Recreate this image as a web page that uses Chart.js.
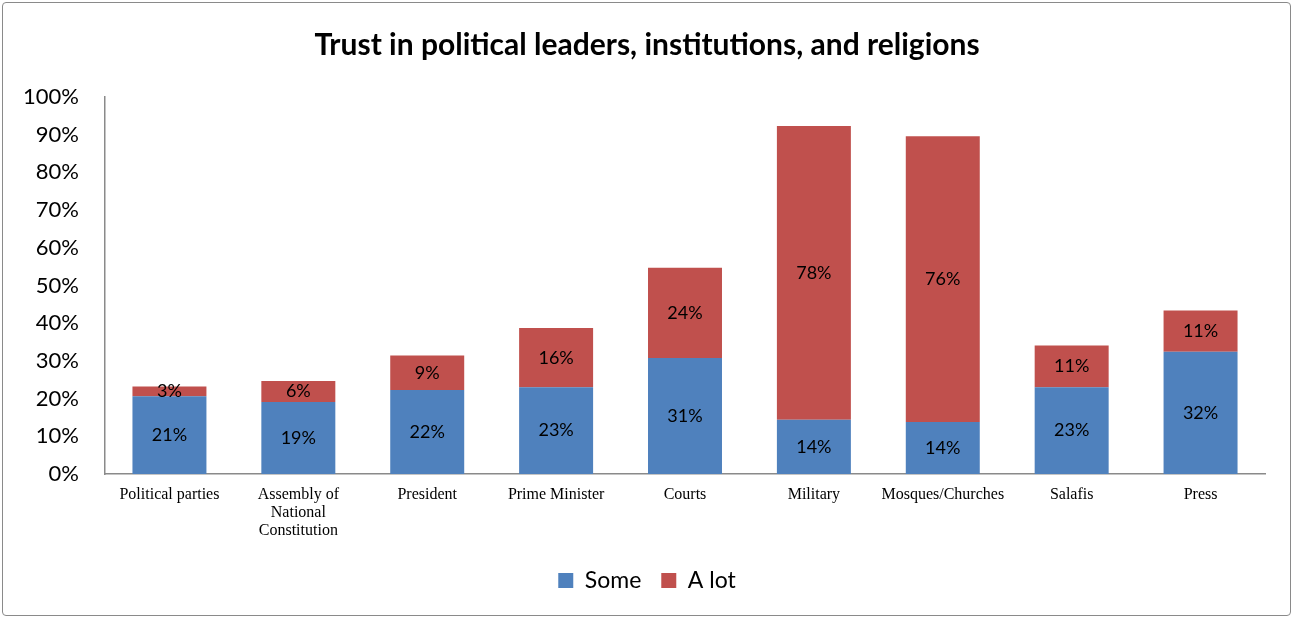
<!DOCTYPE html>
<html>
<head>
<meta charset="utf-8">
<script src="https://cdn.jsdelivr.net/npm/chart.js@4"></script>
<style>
  html, body { margin: 0; padding: 0; background: #ffffff; }
  #wrap { position: relative; width: 1294px; height: 619px; }
  #frame { position: absolute; left: 2px; top: 2px; width: 1289px; height: 614px;
           border: 1.5px solid #8a8a8a; border-radius: 4px; box-sizing: border-box; pointer-events: none; }
  canvas { position: absolute; left: 0; top: 0; }
</style>
</head>
<body>
<div id="wrap">
  <canvas id="c" width="1294" height="619"></canvas>
  <div id="frame"></div>
</div>
<script>
const titleText = "Trust in political leaders, institutions, and religions";
const categories = [
  "Political parties",
  ["Assembly of", "National", "Constitution"],
  "President",
  "Prime Minister",
  "Courts",
  "Military",
  "Mosques/Churches",
  "Salafis",
  "Press"
];
const seriesNames = ["Some", "A lot"];
const someValues = [20.6, 19.1, 22.3, 23.0, 30.8, 14.4, 13.8, 23.0, 32.4];
const aLotValues = [2.6, 5.6, 9.1, 15.7, 23.9, 77.9, 75.8, 11.1, 11.0];
const yTickMax = 100;
const yTickStep = 10;

const barLabels = {
  id: 'barLabels',
  afterDatasetsDraw(chart) {
    const ctx = chart.ctx;
    ctx.save();
    ctx.font = '18px Lato';
    ctx.fillStyle = '#000000';
    ctx.textAlign = 'center';
    ctx.textBaseline = 'middle';
    chart.data.datasets.forEach((ds, di) => {
      const meta = chart.getDatasetMeta(di);
      meta.data.forEach((el, i) => {
        const v = ds.data[i];
        const y = (el.y + el.base) / 2;
        ctx.fillText(Math.round(v) + '%', el.x, y);
      });
    });
    ctx.restore();
  }
};

new Chart(document.getElementById('c'), {
  type: 'bar',
  data: {
    labels: categories,
    datasets: [
      { label: seriesNames[0], data: someValues, backgroundColor: '#4F81BD', borderWidth: 0 },
      { label: seriesNames[1], data: aLotValues, backgroundColor: '#C0504D', borderWidth: 0 }
    ]
  },
  options: {
    responsive: false,
    animation: false,
    devicePixelRatio: 1,
    layout: { padding: { left: 0, right: 0, top: 0, bottom: 17 } },
    datasets: { bar: { barPercentage: 0.574, categoryPercentage: 1.0 } },
    plugins: {
      title: {
        display: true,
        text: titleText,
        color: '#000000',
        font: { family: 'Lato', size: 30, weight: 'bold', lineHeight: 1.2 },
        padding: { top: 27, bottom: 34 }
      },
      legend: {
        position: 'bottom',
        labels: {
          color: '#000000',
          font: { family: 'Lato', size: 23 },
          boxWidth: 15,
          boxHeight: 15,
          padding: 20
        }
      },
      tooltip: { enabled: false }
    },
    scales: {
      x: {
        stacked: true,
        grid: { display: false, drawTicks: false },
        border: { display: true, color: '#8a8a8a', width: 1.5 },
        ticks: {
          color: '#000000',
          font: { family: 'Liberation Serif', size: 16, lineHeight: 1.125 },
          padding: 12,
          maxRotation: 0,
          autoSkip: false
        },
        afterFit(scale) { scale.height = 75; }
      },
      y: {
        stacked: true,
        min: 0,
        max: yTickMax,
        grid: { display: false, drawTicks: false },
        border: { display: true, color: '#8a8a8a', width: 1.5 },
        ticks: {
          stepSize: yTickStep,
          color: '#000000',
          font: { family: 'Lato', size: 22 },
          padding: 26,
          callback: v => v + '%'
        },
        afterFit(scale) { scale.width = 105; }
      },
      yRightSpace: {
        position: 'right',
        display: true,
        min: 0,
        max: yTickMax,
        grid: { display: false, drawTicks: false },
        border: { display: false },
        ticks: { display: false },
        afterFit(scale) { scale.width = 29; }
      }
    }
  },
  plugins: [barLabels]
});
</script>
</body>
</html>
